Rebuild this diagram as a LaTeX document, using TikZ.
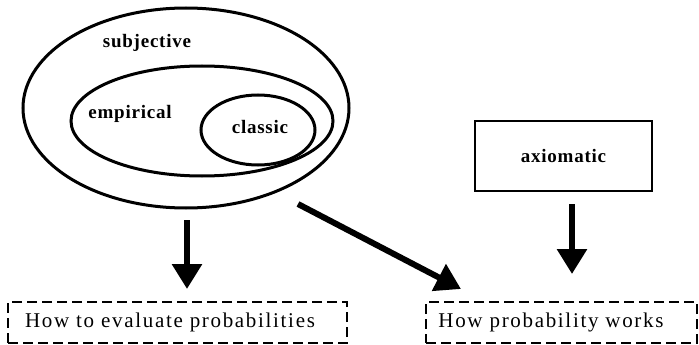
\documentclass[tikz,border=0pt]{standalone}
\usepackage{fontspec}
\setmainfont{Liberation Serif}
\usetikzlibrary{arrows.meta}
\begin{document}
\begin{tikzpicture}[x=1pt,y=1pt,
  lab/.style={font=\fontsize{19}{21}\selectfont\bfseries\addfontfeatures{LetterSpace=4}},
  ell/.style={draw,line width=3pt},
  dbox/.style={draw,line width=2.6pt,dash pattern=on 10pt off 5pt,minimum height=41pt,inner sep=0pt},
  dtext/.style={font=\fontsize{21}{24}\selectfont\addfontfeatures{LetterSpace=8}},
  bigarrow/.style={line width=6pt,-{Triangle[width=29pt,length=25pt]}}]
\useasboundingbox (0,0) rectangle (699,-345);
\draw[ell] (186,-108) ellipse [x radius=163,y radius=100];
\draw[ell] (202,-121) ellipse [x radius=131,y radius=55];
\draw[ell] (258,-130) ellipse [x radius=57,y radius=35];
\node[lab] (subj) at (147,-43) {subjective};
\node[lab] (emp) at (130,-114) {empirical};
\node[lab] (cla) at (260,-127) {classic};
\node[draw,line width=2.6pt,minimum width=177pt,minimum height=70pt,lab] (axi) at (563.5,-156) {axiomatic};
\node[dbox,minimum width=339pt] (eval) at (177.5,-322.5) {};
\node[dtext] (evalt) at (170,-322) {How to evaluate probabilities};
\node[dbox,minimum width=271pt] (works) at (561.5,-322.5) {};
\node[dtext] (workst) at (551,-322) {How probability works};
\coordinate (a1s) at (187,-220);
\coordinate (a1e) at (187,-289);
\coordinate (a2s) at (298,-204);
\coordinate (a2e) at (461,-289);
\coordinate (a3s) at (572,-204);
\coordinate (a3e) at (572,-274);
\draw[bigarrow] (a1s) -- (a1e);
\draw[bigarrow] (a2s) -- (a2e);
\draw[bigarrow] (a3s) -- (a3e);
\end{tikzpicture}
\end{document}
